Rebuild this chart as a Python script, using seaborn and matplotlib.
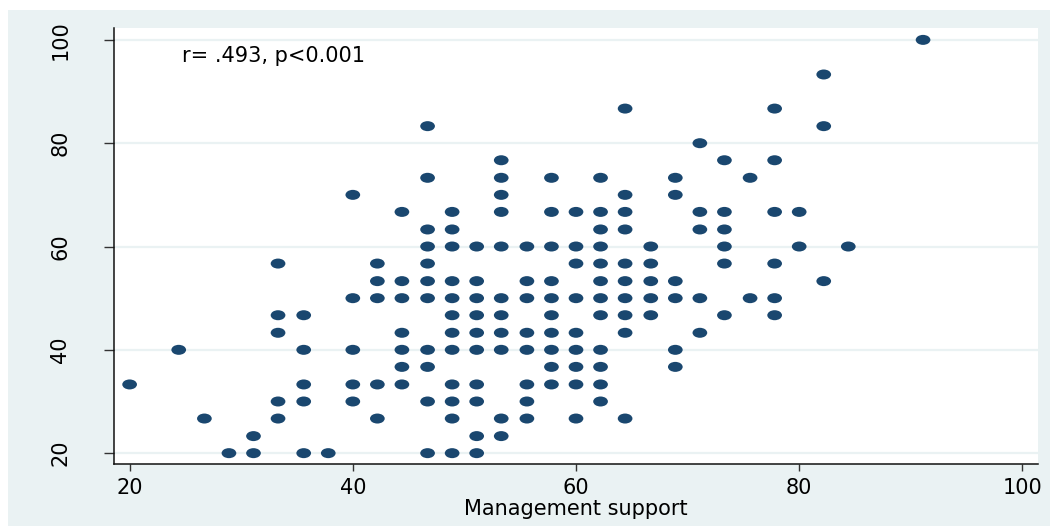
import matplotlib
matplotlib.use("Agg")
import matplotlib.pyplot as plt
import matplotlib.patches as mpatches
from matplotlib.path import Path
from matplotlib.transforms import Affine2D
import pandas as pd
import seaborn as sns

# valores, por columna de "Management support"
x_levels = [20.0, 24.4, 26.7, 28.9, 31.1, 33.3, 35.6, 37.8, 40.0, 42.2,
            44.4, 46.7, 48.9, 51.1, 53.3, 55.6, 57.8, 60.0, 62.2, 64.4,
            66.7, 68.9, 71.1, 73.3, 75.6, 77.8, 80.0, 82.2, 84.4, 91.1]

y_per_level = [
    [33.3],
    [40.0],
    [26.7],
    [20.0],
    [23.3, 20.0],
    [56.7, 46.7, 43.3, 30.0, 26.7],
    [46.7, 40.0, 33.3, 30.0, 20.0],
    [20.0],
    [70.0, 50.0, 40.0, 33.3, 30.0],
    [56.7, 53.3, 50.0, 33.3, 26.7],
    [66.7, 53.3, 50.0, 43.3, 40.0, 36.7, 33.3],
    [83.3, 73.3, 63.3, 60.0, 56.7, 53.3, 50.0, 40.0, 36.7, 30.0, 20.0],
    [66.7, 63.3, 60.0, 53.3, 50.0, 46.7, 43.3, 40.0, 33.3, 30.0, 26.7, 20.0],
    [60.0, 53.3, 50.0, 46.7, 43.3, 40.0, 33.3, 30.0, 23.3, 20.0],
    [76.7, 73.3, 70.0, 66.7, 60.0, 50.0, 46.7, 43.3, 40.0, 26.7, 23.3],
    [60.0, 53.3, 50.0, 43.3, 40.0, 33.3, 30.0, 26.7],
    [73.3, 66.7, 60.0, 53.3, 50.0, 46.7, 43.3, 40.0, 36.7, 33.3],
    [66.7, 60.0, 56.7, 50.0, 43.3, 40.0, 36.7, 33.3, 26.7],
    [73.3, 66.7, 63.3, 60.0, 56.7, 53.3, 50.0, 46.7, 40.0, 36.7, 33.3, 30.0],
    [86.7, 70.0, 66.7, 63.3, 56.7, 53.3, 50.0, 46.7, 43.3, 26.7],
    [60.0, 56.7, 53.3, 50.0, 46.7],
    [73.3, 70.0, 53.3, 50.0, 40.0, 36.7],
    [80.0, 66.7, 63.3, 50.0, 43.3],
    [76.7, 66.7, 63.3, 60.0, 56.7, 46.7],
    [73.3, 50.0],
    [86.7, 76.7, 66.7, 56.7, 50.0, 46.7],
    [66.7, 60.0],
    [93.3, 83.3, 53.3],
    [60.0],
    [100.0],
]

x_ticks = [20, 40, 60, 80, 100]
y_ticks = [20, 40, 60, 80, 100]
anotacion = "r= .493, p<0.001"

filas = [(x, y) for x, ys in zip(x_levels, y_per_level) for y in ys]
df = pd.DataFrame(filas, columns=["management", "valor"])

fondo = "#EAF2F3"
azul = "#1A476F"

sns.set_style("white")
plt.rcParams["font.family"] = ["DejaVu Sans"]
plt.rcParams["text.color"] = "black"
plt.rcParams["axes.labelcolor"] = "black"

fig = plt.figure(figsize=(10.5, 5.26), dpi=100)
fig.patch.set_facecolor("white")
fig.patches.append(mpatches.Rectangle((8 / 1050, 0), 1, 516 / 526,
                                      transform=fig.transFigure,
                                      facecolor=fondo, edgecolor="none",
                                      zorder=-5))

ax = fig.add_axes([114 / 1050, 62 / 526, 924 / 1050, 436 / 526])
ax.set_facecolor("white")

# marcador eliptico como en el original
elipse = Path.unit_circle().transformed(Affine2D().scale(1.0, 0.68))

sns.scatterplot(data=df, x="management", y="valor", ax=ax,
                marker=elipse, s=112, color=azul, edgecolor="none",
                linewidth=0, zorder=3)

ax.set_xlim(18.6, 101.4)
ax.set_ylim(17.9, 102.3)
ax.set_xticks(x_ticks)
ax.set_yticks(y_ticks)
ax.yaxis.grid(True, color="#EAF2F3", linewidth=1.6, zorder=0)
ax.xaxis.grid(False)
ax.set_axisbelow(True)

for lado in ["top", "right"]:
    ax.spines[lado].set_visible(False)
for lado in ["left", "bottom"]:
    ax.spines[lado].set_color("#111111")
    ax.spines[lado].set_linewidth(1.1)

ax.tick_params(axis="x", direction="out", length=5, width=1, color="#333333",
               labelcolor="black", labelsize=15, pad=5, bottom=True)
ax.tick_params(axis="y", direction="out", length=7.5, width=1, color="#333333",
               labelcolor="black", labelsize=15, pad=24, left=True)
for t in ax.get_yticklabels():
    t.set_rotation(90)
    t.set_va("center")

ax.set_xlabel("Management support", fontsize=15, labelpad=1, color="black")
ax.set_ylabel("")

ax.text(24.7, 96.9, anotacion, ha="left", va="center", fontsize=15,
        color="black")

plt.savefig("out.png", dpi=100, facecolor=fig.get_facecolor())
plt.close()
